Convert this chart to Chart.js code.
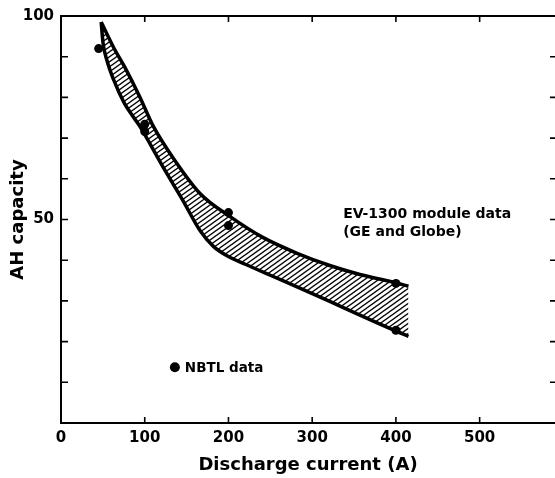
<!DOCTYPE html>
<html>
<head>
<meta charset="utf-8">
<script src="https://cdn.jsdelivr.net/npm/chart.js@4.4.0/dist/chart.umd.min.js"></script>
<style>
  body { margin: 0; background: #fff; }
  #chart { display: block; background: #fff; }
</style>
</head>
<body>
<canvas id="chart" width="555" height="478"></canvas>
<script>
// EV-1300 module band (upper and lower edge)
const upperX = [48, 63, 76.5, 94.4, 110, 136, 166, 202, 241, 282, 321, 357, 397, 415];
const upperY = [98.5, 92.2, 87.3, 80.0, 73.0, 64.5, 56.4, 50.7, 45.6, 41.7, 38.7, 36.5, 34.6, 33.6];
const lowerX = [48, 50.2, 55, 63.3, 75.3, 94.4, 123, 145, 166, 182, 200, 220, 250, 286, 321, 357, 401, 415];
const lowerY = [98.5, 93.4, 89.0, 84.1, 78.7, 72.8, 62.5, 54.9, 47.3, 43.4, 40.9, 39.0, 36.3, 33.1, 29.9, 26.5, 22.5, 21.3];

// NBTL data points
const nbtlX = [45, 100, 100, 200, 200, 400, 400];
const nbtlY = [92, 73.4, 71.6, 51.7, 48.5, 34.3, 22.8];

// key marker for "NBTL data"
const keyX = [136];
const keyY = [13.7];

const xTickLabels = [0, 100, 200, 300, 400, 500];
const yTickLabels = [50, 100];
const xTickValues = [100, 200, 300, 400, 500];
const yTickValues = [10, 20, 30, 40, 50, 60, 70, 80, 90];

const notes = [
    { text: "EV-1300 module data", x: 337, y: 51.5, size: 14 },
    { text: "(GE and Globe)", x: 337, y: 47.1, size: 14 }
];

function pts(xs, ys) {
    return xs.map((x, i) => ({ x: x, y: ys[i] }));
}

const canvas = document.getElementById("chart");
const ctx = canvas.getContext("2d");

function makeHatch() {
    const w = 7, h = 5;
    const tile = document.createElement("canvas");
    tile.width = w;
    tile.height = h;
    const g = tile.getContext("2d");
    g.strokeStyle = "#000";
    g.lineWidth = 1.4;
    [-h, 0, h].forEach(off => {
        g.beginPath();
        g.moveTo(-1, h + off + h / w);
        g.lineTo(w + 1, off - h / w);
        g.stroke();
    });
    return ctx.createPattern(tile, "repeat");
}

Chart.defaults.font.family = "'DejaVu Sans', sans-serif";
Chart.defaults.color = "#000";

// frame and inward tick marks on all four sides
const framePlugin = {
    id: "frame",
    beforeDatasetsDraw(chart) {
        const c = chart.ctx;
        const { left, right, top, bottom } = chart.chartArea;
        const xs = chart.scales.x, ys = chart.scales.y;
        c.save();
        c.strokeStyle = "#000";
        c.lineWidth = 2;
        c.beginPath();
        c.moveTo(right, top);
        c.lineTo(left, top);
        c.lineTo(left, bottom);
        c.lineTo(right, bottom);
        c.stroke();
        c.lineWidth = 1.6;
        xTickValues.forEach(v => {
            const px = xs.getPixelForValue(v);
            c.beginPath();
            c.moveTo(px, bottom);
            c.lineTo(px, bottom - 6);
            c.moveTo(px, top);
            c.lineTo(px, top + 6);
            c.stroke();
        });
        yTickValues.forEach(v => {
            const py = ys.getPixelForValue(v);
            c.beginPath();
            c.moveTo(left, py);
            c.lineTo(left + 7, py);
            c.moveTo(right, py);
            c.lineTo(right - 5, py);
            c.stroke();
        });
        c.restore();
    }
};

const textPlugin = {
    id: "notes",
    afterDatasetsDraw(chart) {
        const c = chart.ctx;
        const xs = chart.scales.x, ys = chart.scales.y;
        c.save();
        c.fillStyle = "#000";
        c.textBaseline = "alphabetic";
        c.textAlign = "left";
        notes.forEach(n => {
            c.font = "bold " + n.size + "px 'DejaVu Sans'";
            c.fillText(n.text, xs.getPixelForValue(n.x), ys.getPixelForValue(n.y) + n.size * 0.3645);
        });
        const kx = xs.getPixelForValue(keyX[0]) + 10;
        const ky = ys.getPixelForValue(keyY[0]);
        c.font = "bold 13.5px 'DejaVu Sans'";
        c.fillText("NBTL data", kx, ky + 13.5 * 0.3645);
        c.restore();
    }
};

new Chart(canvas, {
    type: "line",
    data: {
        datasets: [
            {
                type: "scatter",
                label: "NBTL data",
                data: pts(nbtlX, nbtlY),
                pointRadius: 4.5,
                pointBackgroundColor: "#000",
                pointBorderWidth: 0,
                order: 0
            },
            {
                type: "scatter",
                label: "key",
                data: pts(keyX, keyY),
                pointRadius: 5,
                pointBackgroundColor: "#000",
                pointBorderWidth: 0,
                order: 0
            },
            {
                label: "EV-1300 upper",
                data: pts(upperX, upperY),
                borderColor: "#000",
                borderWidth: 3.5,
                pointRadius: 0,
                cubicInterpolationMode: "monotone",
                fill: "+1",
                backgroundColor: makeHatch(),
                order: 1
            },
            {
                label: "EV-1300 lower",
                data: pts(lowerX, lowerY),
                borderColor: "#000",
                borderWidth: 3.5,
                pointRadius: 0,
                cubicInterpolationMode: "monotone",
                fill: false,
                order: 1
            }
        ]
    },
    options: {
        responsive: false,
        animation: false,
        layout: { autoPadding: false, padding: { top: 15, right: 0, left: 0, bottom: 0 } },
        plugins: {
            legend: { display: false },
            tooltip: { enabled: false }
        },
        scales: {
            x: {
                type: "linear",
                min: 0,
                max: 590,
                grid: { display: false, drawTicks: false },
                border: { display: false },
                ticks: {
                    padding: 6,
                    maxRotation: 0,
                    autoSkip: false,
                    font: { size: 15, weight: "bold" }
                },
                afterBuildTicks: s => { s.ticks = xTickLabels.map(v => ({ value: v })); },
                title: {
                    display: true,
                    text: "Discharge current (A)",
                    font: { size: 18, weight: "bold" },
                    padding: { top: 0, bottom: 2 }
                },
                afterFit: s => { s.height = 55; s.paddingRight = 0; s.paddingLeft = 0; }
            },
            y: {
                min: 0,
                max: 100,
                grid: { display: false, drawTicks: false },
                border: { display: false },
                ticks: {
                    padding: 7,
                    autoSkip: false,
                    font: { size: 15, weight: "bold" }
                },
                afterBuildTicks: s => { s.ticks = yTickLabels.map(v => ({ value: v })); },
                title: {
                    display: true,
                    text: "AH capacity",
                    font: { size: 18, weight: "bold" },
                    padding: { top: 8, bottom: 0 }
                },
                afterFit: s => { s.width = 61; }
            }
        }
    },
    plugins: [framePlugin, textPlugin]
});
</script>
</body>
</html>
